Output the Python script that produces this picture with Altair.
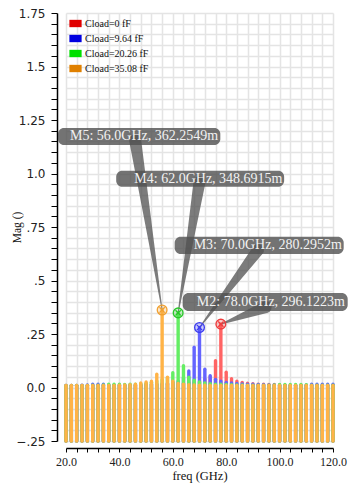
import altair as alt
import pandas as pd

# ---------------- data ----------------
freq = list(range(20, 121, 2))
series = ["Cload=0 fF", "Cload=9.64 fF", "Cload=20.26 fF", "Cload=35.08 fF"]

mag_0 = [0.010, 0.010, 0.010, 0.010, 0.010, 0.010, 0.010, 0.010, 0.010, 0.010,
         0.010, 0.010, 0.010, 0.010, 0.011, 0.012, 0.012, 0.013, 0.014, 0.015,
         0.016, 0.018, 0.020, 0.022, 0.026, 0.030, 0.040, 0.050, 0.125, 0.2961223,
         0.071, 0.041, 0.030, 0.024, 0.020, 0.018, 0.016, 0.015, 0.014, 0.014,
         0.012, 0.011, 0.010, 0.010, 0.010, 0.010, 0.010, 0.010, 0.010, 0.010, 0.010]
mag_9p64 = [0.010, 0.010, 0.010, 0.011, 0.012, 0.015, 0.015, 0.015, 0.012, 0.012,
            0.012, 0.012, 0.012, 0.013, 0.013, 0.014, 0.015, 0.016, 0.018, 0.020,
            0.024, 0.030, 0.045, 0.077, 0.188, 0.2802952, 0.085, 0.055, 0.038, 0.030,
            0.024, 0.021, 0.019, 0.017, 0.016, 0.015, 0.014, 0.013, 0.012, 0.012,
            0.011, 0.011, 0.011, 0.011, 0.011, 0.012, 0.015, 0.015, 0.015, 0.015, 0.015]
mag_20p26 = [0.010, 0.010, 0.010, 0.010, 0.010, 0.011, 0.011, 0.012, 0.015, 0.015,
             0.015, 0.014, 0.015, 0.016, 0.018, 0.020, 0.024, 0.030, 0.036, 0.045,
             0.069, 0.3486915, 0.102, 0.048, 0.034, 0.026, 0.021, 0.018, 0.016, 0.015,
             0.014, 0.013, 0.012, 0.012, 0.011, 0.011, 0.011, 0.011, 0.011, 0.012,
             0.014, 0.014, 0.014, 0.014, 0.014, 0.013, 0.011, 0.011, 0.011, 0.011, 0.011]
mag_35p08 = [0.009, 0.009, 0.009, 0.009, 0.009, 0.009, 0.009, 0.009, 0.009, 0.010,
             0.011, 0.012, 0.013, 0.016, 0.021, 0.026, 0.030, 0.062, 0.3622549, 0.048,
             0.029, 0.019, 0.015, 0.013, 0.012, 0.011, 0.011, 0.010, 0.010, 0.010,
             0.009, 0.009, 0.009, 0.009, 0.009, 0.009, 0.009, 0.009, 0.009, 0.009,
             0.009, 0.009, 0.009, 0.009, 0.009, 0.009, 0.009, 0.009, 0.009, 0.009, 0.009]

# markers (M2..M5)
marker_name = ["M2", "M3", "M4", "M5"]
marker_series = series
marker_freq = [78.0, 70.0, 62.0, 56.0]
marker_mag = [0.2961223, 0.2802952, 0.3486915, 0.3622549]
marker_text = ["M2: 78.0GHz, 296.1223m", "M3: 70.0GHz, 280.2952m",
               "M4: 62.0GHz, 348.6915m", "M5: 56.0GHz, 362.2549m"]

# callout placement (data units)
box_left = [63.7, 60.7, 38.8, 17.0]
box_right = [125.5, 124.0, 101.7, 77.8]
box_top = [0.4416, 0.705, 1.013, 1.2126]
box_bottom = [0.3575, 0.624, 0.938, 1.1332]
text_x = [69.0, 67.8, 45.6, 21.5]
text_y = [0.3995, 0.664, 0.976, 1.173]
wedge_x = [94.8, 91.9, 70.0, 45.9]
wedge_y = [0.376, 0.6425, 0.960, 1.155]

# ---------------- tables ----------------
assert all(len(s) == len(freq) for s in [mag_0, mag_9p64, mag_20p26, mag_35p08])
rows = []
for name, vals in zip(series, [mag_0, mag_9p64, mag_20p26, mag_35p08]):
    for f, v in zip(freq, vals):
        rows.append({"freq": f, "mag": v, "series": name, "base": -0.25})
bars_df = pd.DataFrame(rows)

mk_df = pd.DataFrame({
    "name": marker_name, "series": marker_series, "freq": marker_freq,
    "mag": marker_mag, "text": marker_text,
    "bl": box_left, "br": box_right, "bt": box_top, "bb": box_bottom,
    "tx": text_x, "ty": text_y,
})

wrows = []
for i in range(4):
    wrows.append({"name": marker_name[i], "freq": wedge_x[i], "mag": wedge_y[i], "w": 12, "o": 0})
    wrows.append({"name": marker_name[i], "freq": marker_freq[i], "mag": marker_mag[i], "w": 0.8, "o": 1})
wedge_df = pd.DataFrame(wrows)

bar_colors = ["#ff6464", "#6464ff", "#64ee64", "#ffb347"]
mark_colors = ["#f03c3c", "#3c3cf0", "#28c828", "#f0a030"]
legend_colors = ["#e00000", "#0000e0", "#00e000", "#e08000"]

y_vals = [round(-0.25 + 0.05 * i, 2) for i in range(41)]
x_vals = list(range(20, 121, 4))

xscale = alt.Scale(domain=[20, 120], nice=False, zero=False)
yscale = alt.Scale(domain=[-0.25, 1.75], nice=False, zero=False)

x_axis = alt.Axis(
    values=x_vals,
    labelExpr="datum.value % 20 == 0 ? format(datum.value, '.1f') : ''",
    offset=7, tickSize=4, tickColor="black", domainColor="black", domainWidth=1.5,
    labelFont="Liberation Serif", labelFontSize=12, labelColor="#222",
    labelPadding=4, labelFlush=False, labelOverlap=False,
    titleFont="Liberation Serif", titleFontSize=12.5, titleFontWeight="normal",
    titleColor="#111", titlePadding=2,
    gridColor="#e4e4e4", gridWidth=1.5,
)
y_axis = alt.Axis(
    values=y_vals,
    labelExpr="abs(datum.value*4 - round(datum.value*4)) < 0.001 ? (abs(datum.value) < 0.001 ? '0.0' : (abs(datum.value-1) < 0.001 ? '1.0' : replace(format(datum.value, '.2~f'), '0.', '.'))) : ''",
    offset=9, tickSize=6, tickColor="black", domainColor="black", domainWidth=1.5,
    labelFont="DejaVu Sans", labelFontSize=12, labelColor="#222",
    labelPadding=6, labelOverlap=False, labelFlush=False,
    titleFont="Liberation Serif", titleFontSize=11.5, titleFontWeight="normal",
    titleColor="#111", titleX=-46, titleBaseline="top",
    gridColor="#e4e4e4", gridWidth=1.5,
)


def X(field):
    return alt.X(field, scale=xscale, axis=x_axis, title="freq (GHz)")


def Y(field):
    return alt.Y(field, scale=yscale, axis=y_axis, title="Mag ()")


bars = alt.Chart(bars_df).mark_rule(strokeWidth=3.4, strokeCap="round").encode(
    x=X("freq:Q"),
    y=Y("mag:Q"),
    y2=alt.Y2("base:Q"),
    color=alt.Color("series:N", scale=alt.Scale(domain=series, range=bar_colors), legend=None),
)

boxes = alt.Chart(mk_df).mark_rect(color="#505050", opacity=0.8, cornerRadius=6).encode(
    x=X("bl:Q"),
    x2="br:Q",
    y=Y("bt:Q"),
    y2="bb:Q",
)

wedges = alt.Chart(wedge_df).mark_trail(color="#505050", opacity=0.75).encode(
    x=X("freq:Q"),
    y=Y("mag:Q"),
    size=alt.Size("w:Q", scale=None, legend=None),
    detail="name:N",
    order="o:Q",
)

texts = alt.Chart(mk_df).mark_text(
    align="left", baseline="middle", font="Liberation Serif", fontSize=14, color="#f2f2f2"
).encode(
    x=X("tx:Q"),
    y=Y("ty:Q"),
    text="text:N",
)

mcolor = alt.Color("series:N", scale=alt.Scale(domain=series, range=mark_colors), legend=None)
circ_fill = alt.Chart(mk_df).mark_point(shape="circle", filled=True, opacity=0.25, size=95).encode(
    x=X("freq:Q"), y=Y("mag:Q"), color=mcolor,
)
circ = alt.Chart(mk_df).mark_point(shape="circle", filled=False, size=95, strokeWidth=1.3, opacity=1).encode(
    x=X("freq:Q"), y=Y("mag:Q"), color=mcolor,
)
cross = alt.Chart(mk_df).mark_point(shape="M-1,-1L1,1M-1,1L1,-1", filled=False, size=28,
                                    strokeWidth=1.3, opacity=1).encode(
    x=X("freq:Q"), y=Y("mag:Q"), color=mcolor,
)

legend_layer = alt.Chart(mk_df).mark_point(shape="square", filled=True, opacity=0).encode(
    x=X("freq:Q"),
    y=Y("mag:Q"),
    color=alt.Color("series:N", scale=alt.Scale(domain=series, range=legend_colors),
                    legend=alt.Legend(
                        title=None, orient="none", legendX=3, legendY=4,
                        symbolType="M-1,-0.6H1V0.6H-1Z", symbolSize=150,
                        symbolOpacity=1, symbolStrokeWidth=0,
                        labelFont="Liberation Serif", labelFontSize=10, labelColor="#111",
                        labelOffset=3, rowPadding=3, padding=0,
                    )),
)

chart = alt.layer(bars, boxes, wedges, texts, circ_fill, circ, cross, legend_layer).resolve_scale(
    color="independent"
).properties(
    width=267, height=428,
    autosize=alt.AutoSizeParams(type="none"),
    padding={"left": 58, "top": 5, "right": 15, "bottom": 43},
).configure_view(stroke="transparent")

chart.save("out.html", embed_options={"renderer": "svg", "actions": False})
